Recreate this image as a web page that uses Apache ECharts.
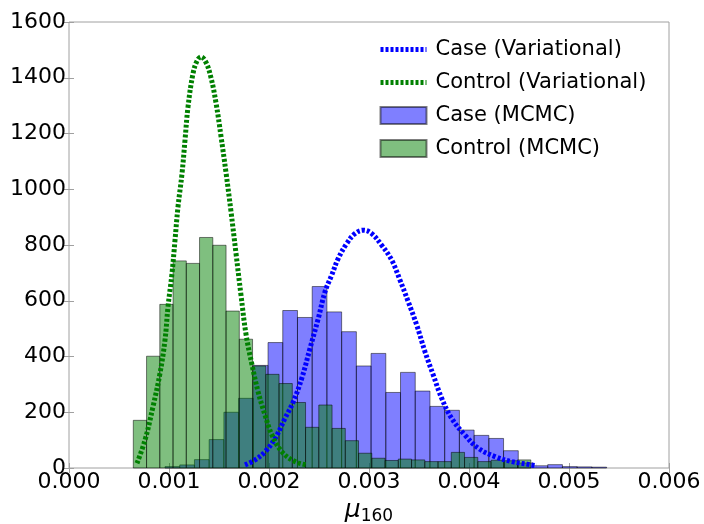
<!DOCTYPE html>
<html>
<head>
<meta charset="utf-8">
<script src="https://cdn.jsdelivr.net/npm/echarts@6/dist/echarts.min.js"></script>
<style>html,body{margin:0;padding:0;background:#fff}#c{width:704px;height:524px}</style>
</head>
<body>
<div id="c"></div>
<script>
// ---- data ----
const xTicks = [0, 0.001, 0.002, 0.003, 0.004, 0.005, 0.006];
const yTicks = [0, 200, 400, 600, 800, 1000, 1200, 1400, 1600];

// Case (MCMC) histogram: first bin edge, bin width, bin heights
const caseBinStart = 0.00096;
const caseBinWidth = 0.0001472;
const caseCounts = [5, 11, 30, 102, 200, 250, 368, 450, 565, 540, 651, 560, 489, 366, 411,
                    271, 343, 276, 221, 207, 136, 117, 106, 62, 18, 8, 12, 5, 4, 3];

// Control (MCMC) histogram
const controlBinStart = 0.000643;
const controlBinWidth = 0.0001325;
const controlCounts = [171, 401, 587, 743, 734, 827, 799, 563, 462, 366, 336, 303, 235, 146, 226,
                       142, 98, 53, 35, 27, 32, 29, 23, 23, 56, 38, 23, 28, 26, 29];

// Variational curves (x, density)
const controlVarX = [0.00068, 0.00076, 0.00084, 0.00091, 0.00096, 0.00099, 0.00103, 0.00106, 0.00109,
                     0.00113, 0.00116, 0.00119, 0.00124, 0.00128, 0.00132, 0.00137, 0.00142, 0.00147,
                     0.00152, 0.00157, 0.00162, 0.00167, 0.00172, 0.00177, 0.00183, 0.00189, 0.00196,
                     0.00203, 0.00213, 0.00226, 0.00238];
const controlVarY = [17, 100, 220, 340, 459, 578, 698, 817, 937,
                     1056, 1176, 1295, 1415, 1460, 1475, 1455, 1400, 1310,
                     1190, 1060, 920, 770, 620, 480, 370, 275, 190,
                     118, 58, 23, 11];
const caseVarX = [0.00176, 0.00186, 0.00196, 0.00206, 0.00216, 0.002243, 0.002327, 0.00241, 0.002493,
                  0.00256, 0.002627, 0.002693, 0.002777, 0.00286, 0.002943, 0.003027, 0.003127, 0.003227,
                  0.00331, 0.003393, 0.003477, 0.00356, 0.003643, 0.003727, 0.003827, 0.00396, 0.004093,
                  0.00426, 0.004427, 0.004593, 0.004677];
const caseVarY = [11, 29, 58, 106, 178, 238, 321, 429, 537,
                  632, 692, 752, 805, 841, 853, 841, 799, 746,
                  674, 596, 513, 417, 333, 250, 178, 118, 71,
                  41, 23, 13, 8];

const names = ['Case (Variational)', 'Control (Variational)', 'Case (MCMC)', 'Control (MCMC)'];

// ---- build ----
function histData(start, width, counts) {
  return counts.map((c, i) => [start + i * width, start + (i + 1) * width, c]);
}
function pairs(xs, ys) { return xs.map((x, i) => [x, ys[i]]); }

function histRender(fill) {
  return function (params, api) {
    const p0 = api.coord([api.value(0), api.value(2)]);
    const p1 = api.coord([api.value(1), 0]);
    return {
      type: 'rect',
      shape: { x: p0[0], y: p0[1], width: p1[0] - p0[0], height: p1[1] - p0[1] },
      style: { fill: fill, stroke: 'rgba(0,0,0,0.5)', lineWidth: 1 }
    };
  };
}

const FONT = 'DejaVu Sans';
const chart = echarts.init(document.getElementById('c'), null, { renderer: 'canvas' });
const axisGrey = '#a0a0a0';
const BLUE = '#0000ff', GREEN = '#008000';
const dotted = [3, 2];

chart.setOption({
  animation: false,
  backgroundColor: '#ffffff',
  grid: { left: 69, right: 35, top: 22, bottom: 56, show: true, borderColor: axisGrey, borderWidth: 1,
          containLabel: false, outerBoundsMode: 'none' },
  xAxis: [{
    type: 'value', min: xTicks[0], max: xTicks[xTicks.length - 1], interval: 0.001,
    axisLine: { show: false },
    axisTick: { show: true, inside: true, length: 5, lineStyle: { color: axisGrey } },
    splitLine: { show: false },
    axisLabel: { fontFamily: FONT, fontSize: 22, color: '#000', margin: 3, formatter: v => v.toFixed(3) },
    name: '{m|μ}{s|160}',
    nameLocation: 'middle', nameGap: 27,
    nameTextStyle: {
      rich: {
        m: { fontFamily: 'DejaVu Sans', fontStyle: 'italic', fontSize: 25, color: '#000' },
        s: { fontFamily: 'DejaVu Sans', fontSize: 17, color: '#000', padding: [12, 0, 0, 0] }
      }
    }
  }, {
    type: 'value', position: 'top', min: xTicks[0], max: xTicks[xTicks.length - 1], interval: 0.001,
    axisLine: { show: false }, axisLabel: { show: false }, splitLine: { show: false },
    axisTick: { show: true, inside: true, length: 5, lineStyle: { color: axisGrey } }
  }],
  yAxis: [{
    type: 'value', min: yTicks[0], max: yTicks[yTicks.length - 1], interval: 200,
    axisLine: { show: false },
    axisTick: { show: true, inside: true, length: 5, lineStyle: { color: axisGrey } },
    splitLine: { show: false },
    axisLabel: { fontFamily: FONT, fontSize: 22, color: '#000', margin: 3, formatter: v => String(v) }
  }, {
    type: 'value', position: 'right', min: yTicks[0], max: yTicks[yTicks.length - 1], interval: 200,
    axisLine: { show: false }, axisLabel: { show: false }, splitLine: { show: false },
    axisTick: { show: true, inside: true, length: 5, lineStyle: { color: axisGrey } }
  }],
  legend: {
    orient: 'vertical', left: 378, top: 39, itemWidth: 46, itemHeight: 17, itemGap: 12,
    padding: 0,
    textStyle: { fontFamily: FONT, fontSize: 21, color: '#000', lineHeight: 20, padding: [0, 0, 0, 4] },
    data: [
      { name: names[0], itemStyle: { opacity: 0 }, lineStyle: { color: BLUE, width: 5, type: dotted, cap: 'butt' } },
      { name: names[1], itemStyle: { opacity: 0 }, lineStyle: { color: GREEN, width: 5, type: dotted, cap: 'butt' } },
      { name: names[2], icon: 'rect' }, { name: names[3], icon: 'rect' }
    ]
  },
  series: [
    {
      name: names[2], type: 'custom', renderItem: histRender('rgba(0,0,255,0.5)'),
      encode: { x: [0, 1], y: 2 }, data: histData(caseBinStart, caseBinWidth, caseCounts), z: 1,
      itemStyle: { color: 'rgba(0,0,255,0.5)', borderColor: 'rgba(0,0,0,0.5)', borderWidth: 1 }
    },
    {
      name: names[3], type: 'custom', renderItem: histRender('rgba(0,128,0,0.5)'),
      encode: { x: [0, 1], y: 2 }, data: histData(controlBinStart, controlBinWidth, controlCounts), z: 2,
      itemStyle: { color: 'rgba(0,128,0,0.5)', borderColor: 'rgba(0,0,0,0.5)', borderWidth: 1 }
    },
    {
      name: names[0], type: 'line', data: pairs(caseVarX, caseVarY), smooth: 0.4, symbol: 'none', z: 5,
      itemStyle: { color: BLUE },
      lineStyle: { color: BLUE, width: 5, type: dotted, cap: 'butt' }
    },
    {
      name: names[1], type: 'line', data: pairs(controlVarX, controlVarY), smooth: 0.4, symbol: 'none', z: 5,
      itemStyle: { color: GREEN },
      lineStyle: { color: GREEN, width: 5, type: dotted, cap: 'butt' }
    }
  ]
});
</script>
</body>
</html>
